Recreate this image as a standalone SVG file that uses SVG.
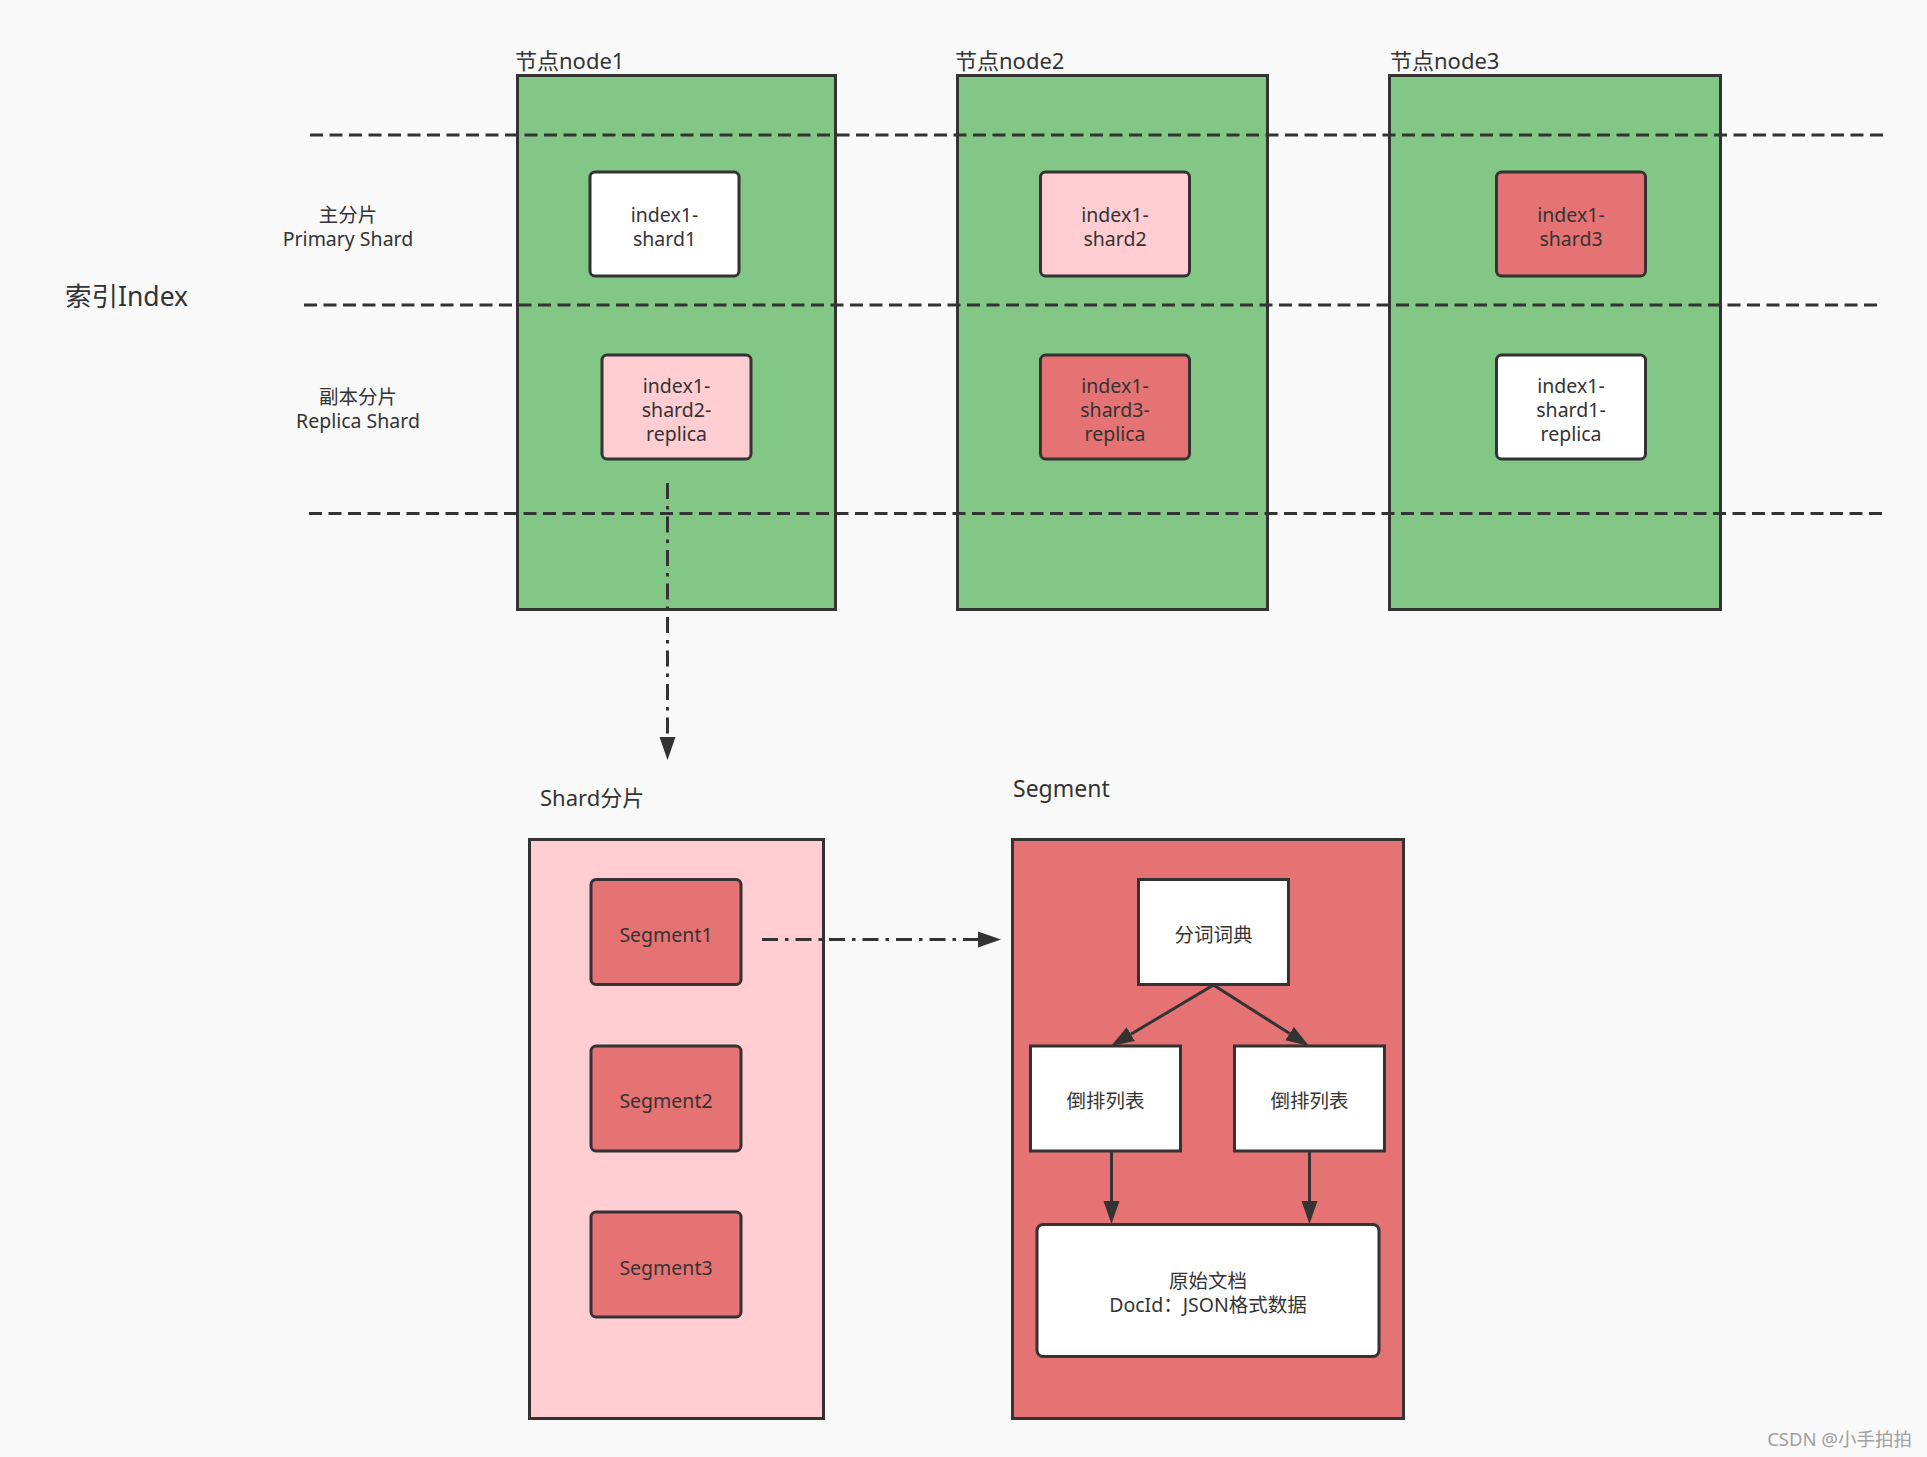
<svg xmlns="http://www.w3.org/2000/svg" width="1927" height="1457" viewBox="0 0 1927 1457">
<style>
text{font-family:"Noto Sans","Noto Sans CJK SC",sans-serif;fill:#333;}
.lbl{font-size:19.5px;text-anchor:middle;}
.big{font-size:22px;}
.node{fill:#82c785;stroke:#333;stroke-width:3;}
.box{stroke:#333;stroke-width:3;}
.white{fill:#fff;}
.pink{fill:#ffcdd2;}
.red{fill:#e57373;}
.sep{stroke:#333;stroke-width:3;stroke-dasharray:13 6.5;fill:none;}
.dd{stroke:#333;stroke-width:3;stroke-dasharray:16 7 3.5 7;fill:none;}
.solid{stroke:#333;stroke-width:3;fill:none;}
</style>
<defs>
<marker id="arr" markerUnits="userSpaceOnUse" markerWidth="24" markerHeight="17" refX="0" refY="8" orient="auto" viewBox="0 0 24 16">
<path d="M0,0 L23,8 L0,16 z" fill="#333"/>
</marker>
</defs>
<rect x="0" y="0" width="1927" height="1457" fill="#f9f9f9"/>

<g id="index-label"><text x="65" y="306" style="font-size:26.5px">索引Index</text></g>
<g id="primary-label"><text class="lbl" x="348" y="222"><tspan x="348">主分片</tspan><tspan x="348" y="246">Primary Shard</tspan></text></g>
<g id="replica-label"><text class="lbl" x="358" y="404"><tspan x="358">副本分片</tspan><tspan x="358" y="428">Replica Shard</tspan></text></g>

<g id="node1">
<text class="big" x="515" y="69">节点node1</text>
<rect class="node" x="517.5" y="75.5" width="318" height="534"/>
</g>
<g id="node2">
<text class="big" x="955" y="69">节点node2</text>
<rect class="node" x="957.5" y="75.5" width="310" height="534"/>
</g>
<g id="node3">
<text class="big" x="1390" y="69">节点node3</text>
<rect class="node" x="1389.5" y="75.5" width="331" height="534"/>
</g>

<g id="separators">
<line class="sep" x1="310" y1="135" x2="1883" y2="135"/>
<line class="sep" x1="304" y1="305" x2="1877" y2="305"/>
<line class="sep" x1="309" y1="513.5" x2="1882" y2="513.5"/>
</g>

<g id="n1-shard1">
<rect class="box white" x="590" y="172" width="149" height="104" rx="5"/>
<text class="lbl" x="664.5" y="222"><tspan x="664.5">index1-</tspan><tspan x="664.5" y="246">shard1</tspan></text>
</g>
<g id="n1-shard2-replica">
<rect class="box pink" x="602" y="355" width="149" height="104" rx="5"/>
<text class="lbl" x="676.5" y="393"><tspan x="676.5">index1-</tspan><tspan x="676.5" y="417">shard2-</tspan><tspan x="676.5" y="441">replica</tspan></text>
</g>
<g id="n2-shard2">
<rect class="box pink" x="1040.5" y="172" width="149" height="104" rx="5"/>
<text class="lbl" x="1115" y="222"><tspan x="1115">index1-</tspan><tspan x="1115" y="246">shard2</tspan></text>
</g>
<g id="n2-shard3-replica">
<rect class="box red" x="1040.5" y="355" width="149" height="104" rx="5"/>
<text class="lbl" x="1115" y="393"><tspan x="1115">index1-</tspan><tspan x="1115" y="417">shard3-</tspan><tspan x="1115" y="441">replica</tspan></text>
</g>
<g id="n3-shard3">
<rect class="box red" x="1496.5" y="172" width="149" height="104" rx="5"/>
<text class="lbl" x="1571" y="222"><tspan x="1571">index1-</tspan><tspan x="1571" y="246">shard3</tspan></text>
</g>
<g id="n3-shard1-replica">
<rect class="box white" x="1496.5" y="355" width="149" height="104" rx="5"/>
<text class="lbl" x="1571" y="393"><tspan x="1571">index1-</tspan><tspan x="1571" y="417">shard1-</tspan><tspan x="1571" y="441">replica</tspan></text>
</g>

<g id="shard-container">
<text class="big" x="540" y="806">Shard分片</text>
<rect class="box pink" x="529.5" y="839.5" width="294" height="579"/>
</g>
<g id="segment1">
<rect class="box red" x="591" y="879.5" width="150" height="105" rx="5"/>
<text class="lbl" x="666" y="942">Segment1</text>
</g>
<g id="segment2">
<rect class="box red" x="591" y="1046" width="150" height="105" rx="5"/>
<text class="lbl" x="666" y="1108">Segment2</text>
</g>
<g id="segment3">
<rect class="box red" x="591" y="1212" width="150" height="105" rx="5"/>
<text class="lbl" x="666" y="1275">Segment3</text>
</g>

<g id="segment-container">
<text class="big" x="1013" y="797" style="font-size:23px">Segment</text>
<rect class="box red" x="1012.5" y="839.5" width="391" height="579"/>
</g>
<g id="dictionary">
<rect class="box white" x="1138.5" y="879.5" width="150" height="105"/>
<text class="lbl" x="1213.5" y="942">分词词典</text>
</g>
<g id="inverted-left">
<rect class="box white" x="1030.5" y="1046" width="150" height="105"/>
<text class="lbl" x="1105.5" y="1108">倒排列表</text>
</g>
<g id="inverted-right">
<rect class="box white" x="1234.5" y="1046" width="150" height="105"/>
<text class="lbl" x="1309.5" y="1108">倒排列表</text>
</g>
<g id="raw-doc">
<rect class="box white" x="1037" y="1224.5" width="342" height="132" rx="6"/>
<text class="lbl" x="1208" y="1288"><tspan x="1208">原始文档</tspan><tspan x="1208" y="1312">DocId：JSON格式数据</tspan></text>
</g>

<g id="connectors">
<line class="dd" x1="667.5" y1="483" x2="667.5" y2="737" marker-end="url(#arr)"/>
<line class="dd" x1="762" y1="939.5" x2="978" y2="939.5" marker-end="url(#arr)"/>
<line class="solid" x1="1213.5" y1="985" x2="1130.8" y2="1034.2" marker-end="url(#arr)"/>
<line class="solid" x1="1213.5" y1="985" x2="1289.6" y2="1033.6" marker-end="url(#arr)"/>
<line class="solid" x1="1111.5" y1="1151" x2="1111.5" y2="1201" marker-end="url(#arr)"/>
<line class="solid" x1="1309.5" y1="1151" x2="1309.5" y2="1201" marker-end="url(#arr)"/>
</g>

<g id="watermark"><text x="1912" y="1446" style="font-size:18.5px;fill:#a0a0a0;text-anchor:end">CSDN @小手拍拍</text></g>
</svg>
